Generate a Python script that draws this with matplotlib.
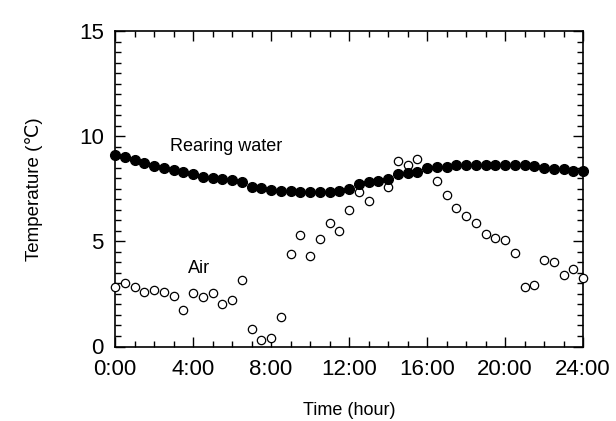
import numpy as np
import matplotlib
matplotlib.use("Agg")
import matplotlib.pyplot as plt
from matplotlib.ticker import MultipleLocator, FixedLocator

plt.rcParams['font.family'] = ['Liberation Sans', 'DejaVu Sans']

hours = np.arange(0, 24.01, 0.5)

rearing_water = [9.10, 9.01, 8.86, 8.72, 8.60, 8.50, 8.40, 8.30, 8.18, 8.08,
                 8.00, 7.94, 7.90, 7.80, 7.60, 7.55, 7.45, 7.38, 7.37, 7.35,
                 7.35, 7.35, 7.35, 7.40, 7.48, 7.72, 7.80, 7.87, 7.95, 8.18,
                 8.25, 8.32, 8.47, 8.52, 8.53, 8.61, 8.62, 8.62, 8.62, 8.62,
                 8.62, 8.62, 8.62, 8.59, 8.50, 8.46, 8.43, 8.33, 8.33]

air = [2.84, 3.02, 2.81, 2.58, 2.70, 2.58, 2.38, 1.75, 2.56, 2.36,
       2.55, 2.00, 2.22, 3.16, 0.81, 0.30, 0.39, 1.38, 4.42, 5.31,
       4.32, 5.10, 5.89, 5.50, 6.47, 7.33, 6.94, 7.87, 7.56, 8.83,
       8.64, 8.92, 8.47, 7.89, 7.19, 6.59, 6.19, 5.89, 5.37, 5.18,
       5.07, 4.44, 2.81, 2.93, 4.13, 4.03, 3.40, 3.69, 3.26]

xtick_pos = [0, 4, 8, 12, 16, 20, 24]
xtick_labels = ["0:00", "4:00", "8:00", "12:00", "16:00", "20:00", "24:00"]
ytick_pos = [0, 5, 10, 15]

fig = plt.figure(figsize=(6.16, 4.21), dpi=100)
ax = fig.add_axes([115/616, 1 - 346.5/421, (583 - 115)/616, (346.5 - 31)/421])

ax.plot(hours, air, linestyle='none', marker='o', markersize=6.0,
        markerfacecolor='white', markeredgecolor='black', markeredgewidth=0.9,
        clip_on=False, zorder=3)
ax.plot(hours, rearing_water, linestyle='none', marker='o', markersize=7.0,
        markerfacecolor='black', markeredgecolor='black', clip_on=False, zorder=4)

ax.set_xlim(0, 24)
ax.set_ylim(0, 15)
ax.xaxis.set_major_locator(FixedLocator(xtick_pos))
ax.set_xticklabels(xtick_labels)
ax.xaxis.set_minor_locator(MultipleLocator(1))
ax.yaxis.set_major_locator(FixedLocator(ytick_pos))
ax.yaxis.set_minor_locator(MultipleLocator(0.5))

ax.tick_params(which='both', direction='in', top=True, right=True,
               width=1.0, colors='black')
ax.tick_params(which='major', length=7, labelsize=16)
ax.tick_params(which='minor', length=4)
ax.tick_params(axis='x', which='major', pad=9)
ax.tick_params(axis='y', which='major', pad=8)

for s in ax.spines.values():
    s.set_linewidth(1.2)

ax.set_xlabel("Time (hour)", fontsize=13, labelpad=16)
ax.set_ylabel("Temperature (\u2103)", fontsize=13.5, labelpad=26)

ax.text(2.8, 9.5, "Rearing water", fontsize=13, ha='left', va='center')
ax.text(3.75, 3.7, "Air", fontsize=13, ha='left', va='center')

fig.savefig("out.png", dpi=100)
